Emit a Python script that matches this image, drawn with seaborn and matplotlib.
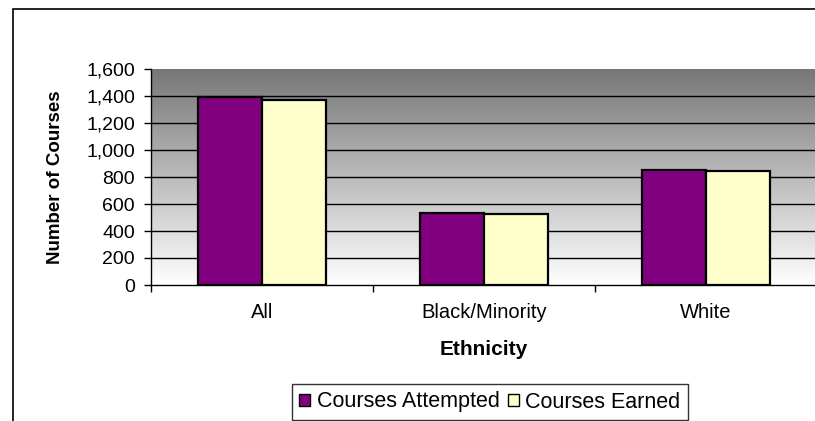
import numpy as np
import pandas as pd
import matplotlib
matplotlib.use("Agg")
import matplotlib.pyplot as plt
from matplotlib.patches import Patch, Rectangle
from matplotlib.ticker import FuncFormatter, FixedLocator
import seaborn as sns

# data
ethnicity = ["All", "Black/Minority", "White"]
attempted = [1393, 536, 855]
earned = [1368, 524, 844]
series_names = ["Courses Attempted", "Courses Earned"]
series_colors = ["#800080", "#FFFFCC"]

df = pd.DataFrame({
    "Ethnicity": ethnicity * 2,
    "Series": [series_names[0]] * 3 + [series_names[1]] * 3,
    "Courses": attempted + earned,
})

sns.set_theme(style="white")
plt.rcParams["font.family"] = ["Liberation Sans", "DejaVu Sans"]
plt.rcParams.update({"text.color": "black", "axes.labelcolor": "black",
                     "xtick.color": "black", "ytick.color": "black"})

W, H = 815, 421
fig = plt.figure(figsize=(W / 100, H / 100), dpi=100)
fig.patch.set_facecolor("white")

# outer chart frame (cropped on the right and bottom in the original)
fig.patches.append(Rectangle((13 / W, -0.1), 1.2, 1 - 9 / H + 0.1,
                             transform=fig.transFigure, fill=False,
                             edgecolor="black", linewidth=1.2, zorder=0))

ax = fig.add_axes([151 / W, 1 - 285 / H, 666 / W, 216 / H])
ax.set_facecolor("none")

# grey gradient behind the plot area
grad = np.linspace(0, 1, 256).reshape(-1, 1)
ax.imshow(grad, extent=[-0.5, 2.5, 0, 1600], aspect="auto", origin="upper",
          cmap=matplotlib.colors.LinearSegmentedColormap.from_list(
              "g", ["#767676", "#ffffff"]), zorder=0)

sns.barplot(data=df, x="Ethnicity", y="Courses", hue="Series",
            palette=series_colors, width=0.574, gap=0,
            edgecolor="black", linewidth=1.6, saturation=1,
            legend=False, ax=ax, zorder=3)

ax.set_xlim(-0.5, 2.5)
ax.set_ylim(0, 1600)
ax.set_yticks(range(0, 1601, 200))
ax.yaxis.set_major_formatter(FuncFormatter(lambda v, p: f"{int(v):,}"))
for yv in range(200, 1600, 200):
    ax.axhline(yv, color="black", linewidth=1, zorder=1)

for s in ["top", "right"]:
    ax.spines[s].set_visible(False)
for s in ["left", "bottom"]:
    ax.spines[s].set_color("black")
    ax.spines[s].set_linewidth(1)
    ax.spines[s].set_zorder(4)

ax.tick_params(axis="y", which="major", direction="out", length=5, width=1,
               color="black", labelsize=14, pad=6.5, left=True)
ax.tick_params(axis="x", which="major", length=0, labelsize=14.5, pad=13)
ax.xaxis.set_minor_locator(FixedLocator([-0.5, 0.5, 1.5, 2.5]))
ax.tick_params(axis="x", which="minor", direction="out", length=5, width=1,
               color="black", bottom=True)

ax.set_xlabel("Ethnicity", fontsize=15, fontweight="bold", labelpad=13)
ax.set_ylabel("Number of Courses", fontsize=13.5, fontweight="bold", labelpad=16)

handles = [Patch(facecolor=c, edgecolor="black", linewidth=1) for c in series_colors]
fig.legend(handles, series_names, loc="center", bbox_to_anchor=(490 / W, 1 - 402 / H),
           ncol=2, frameon=True, fancybox=False, edgecolor="black", fontsize=15.5,
           handlelength=0.5, handleheight=0.5, handletextpad=0.3,
           columnspacing=0.4, borderpad=0.35)

fig.savefig("out.png", dpi=100)
